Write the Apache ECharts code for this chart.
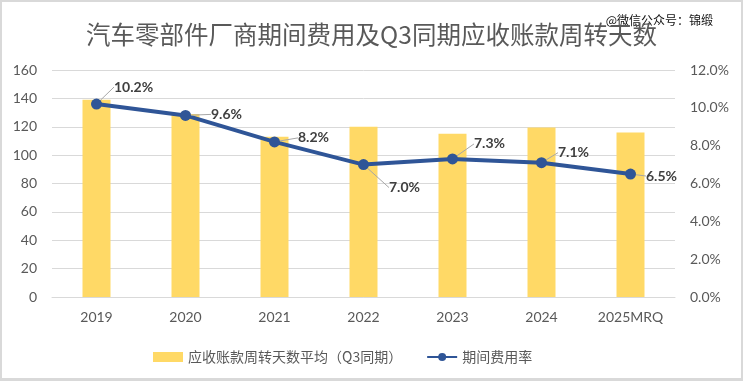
<!DOCTYPE html>
<html>
<head>
<meta charset="utf-8">
<script src="https://cdn.jsdelivr.net/npm/echarts@6/dist/echarts.min.js"></script>
<style>
html,body{margin:0;padding:0;background:#d9d9d9;width:743px;height:381px;overflow:hidden;}
#chart{position:absolute;left:2px;top:2px;width:739px;height:376px;background:#fff;}
</style>
</head>
<body>
<div id="chart"></div>
<script>
const titleText = '汽车零部件厂商期间费用及Q3同期应收账款周转天数';
const watermark = '@微信公众号：锦缎';
const categories = ['2019', '2020', '2021', '2022', '2023', '2024', '2025MRQ'];
const barName = '应收账款周转天数平均（Q3同期）';
const lineName = '期间费用率';
const turnoverDays = [139, 129, 113, 120, 115, 119.5, 116];
const expenseRate = [10.2, 9.6, 8.2, 7.0, 7.3, 7.1, 6.5];
const leftTicks = { min: 0, max: 160, interval: 20 };
const rightTicks = { min: 0, max: 12, interval: 2 };

// label offsets (style only)
const labelShift = [[7, -17], [15, -1], [13, -4], [15, 23], [11, -15], [6, -10], [5, 2]];

const font = 'Lato, "Noto Sans CJK SC", sans-serif';
const chart = echarts.init(document.getElementById('chart'));
chart.setOption({
  animation: false,
  textStyle: { fontFamily: font },
  title: {
    text: titleText, left: 'center', top: 15,
    textStyle: { fontFamily: '"Noto Sans CJK SC", sans-serif', fontSize: 24.5, fontWeight: 'normal', color: '#595959' }
  },
  graphic: [{
    type: 'text', right: 28, top: 12,
    style: { text: watermark, font: '12px "Noto Sans CJK SC", sans-serif', fill: '#111' }
  }],
  grid: { left: 50, top: 68, width: 623, height: 227 },
  legend: {
    left: 146, top: 343, itemGap: 24, itemWidth: 30, itemHeight: 10,
    textStyle: { fontFamily: '"Noto Sans CJK SC", sans-serif', fontSize: 14, color: '#595959' },
    data: [{ name: barName, icon: 'rect', itemStyle: { borderWidth: 0 } }, { name: lineName }]
  },
  xAxis: {
    type: 'category', data: categories,
    axisLine: { lineStyle: { color: '#D9D9D9' } }, axisTick: { show: false },
    axisLabel: { color: '#595959', fontSize: 14, margin: 13, fontFamily: font }
  },
  yAxis: [{
    type: 'value', min: leftTicks.min, max: leftTicks.max, interval: leftTicks.interval,
    axisLabel: { color: '#595959', fontSize: 14, margin: 15, fontFamily: font },
    splitLine: { lineStyle: { color: '#D9D9D9', width: 1 } },
    axisLine: { show: false }, axisTick: { show: false }
  }, {
    type: 'value', min: rightTicks.min, max: rightTicks.max, interval: rightTicks.interval,
    axisLabel: { color: '#595959', fontSize: 14, margin: 15, fontFamily: font, formatter: v => v.toFixed(1) + '%' },
    splitLine: { show: false }, axisLine: { show: false }, axisTick: { show: false }
  }],
  series: [{
    name: barName, type: 'bar', data: turnoverDays, barWidth: 28,
    itemStyle: { color: '#FFD966' }
  }, {
    name: lineName, type: 'line', yAxisIndex: 1, data: expenseRate,
    symbol: 'circle', symbolSize: 11,
    lineStyle: { color: '#2F5597', width: 4 },
    itemStyle: { color: '#2F5597' },
    label: {
      show: true, position: 'right', distance: 5,
      formatter: p => p.value.toFixed(1) + '%',
      fontFamily: font, fontSize: 14, fontWeight: 'bold', color: '#404040'
    },
    labelLine: { show: true, lineStyle: { color: '#A6A6A6', width: 1 } },
    labelLayout: p => ({ dx: labelShift[p.dataIndex][0], dy: labelShift[p.dataIndex][1] }),
    z: 5
  }]
});
</script>
</body>
</html>
